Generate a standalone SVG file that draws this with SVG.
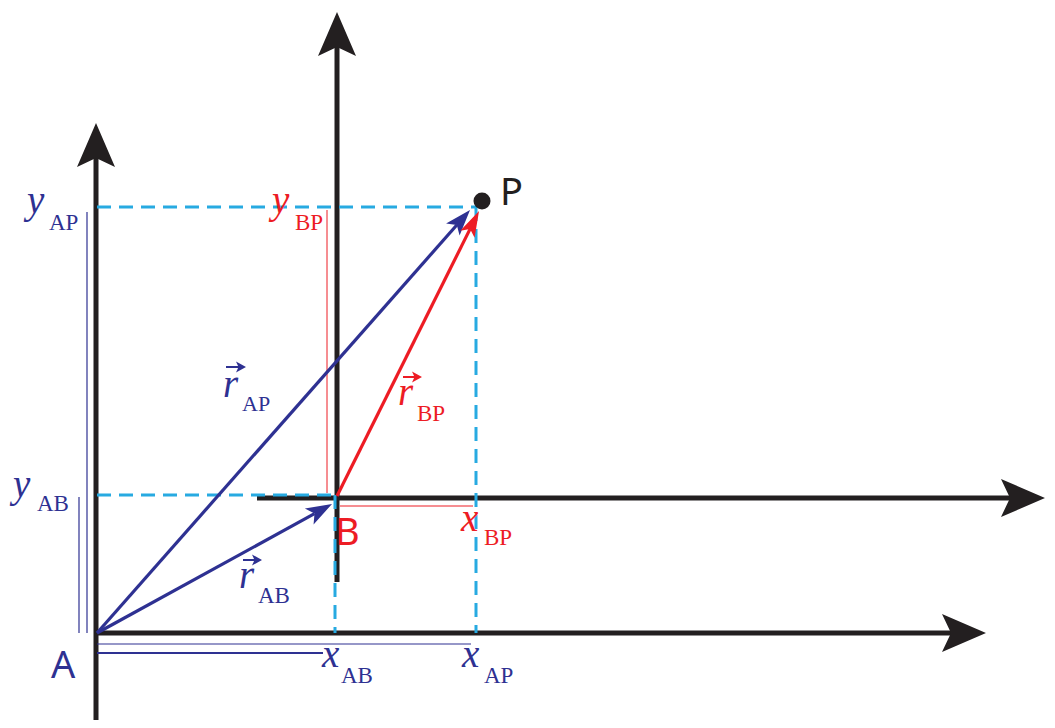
<svg xmlns="http://www.w3.org/2000/svg" width="1055" height="728" viewBox="0 0 1055 728">
<style>
.axis{stroke:#231f20;stroke-width:5;fill:none;marker-end:url(#bigArrow)}
.stub{stroke:#231f20;stroke-width:5;fill:none}
.dash{stroke:#27aae1;stroke-width:3;stroke-dasharray:14 8;fill:none}
.vb{stroke:#2e3192;stroke-width:3.2;fill:none;marker-end:url(#blueHead)}
.vr{stroke:#ed1c24;stroke-width:3.2;fill:none;marker-end:url(#redHead)}
.thinb{stroke:#2e3192;stroke-width:1.2;fill:none}
.thinr{stroke:#ed1c24;stroke-width:1;fill:none}
.it{font-family:"Liberation Serif","Times New Roman",serif;font-style:italic;font-size:39px}
.sub{font-family:"Liberation Serif","Times New Roman",serif;font-size:23px}
.sans{font-family:"Noto Sans","Open Sans","Liberation Sans",sans-serif;font-size:38px}
.blue{fill:#2e3192}
.red{fill:#ed1c24}
.blk{fill:#231f20}
</style>
<defs>
<marker id="bigArrow" markerUnits="userSpaceOnUse" markerWidth="60" markerHeight="50" refX="9" refY="0" orient="auto" overflow="visible">
<path d="M0,-19 L44,0 L0,19 L9,0 Z" fill="#231f20"/>
</marker>
<marker id="blueHead" markerUnits="userSpaceOnUse" markerWidth="40" markerHeight="30" refX="6" refY="0" orient="auto" overflow="visible">
<path d="M0,-9 L26,0 L0,9 L6,0 Z" fill="#2e3192"/>
</marker>
<marker id="redHead" markerUnits="userSpaceOnUse" markerWidth="40" markerHeight="30" refX="6" refY="0" orient="auto" overflow="visible">
<path d="M0,-8 L26,0 L0,8 L6,0 Z" fill="#ed1c24"/>
</marker>
</defs>
<g id="axes">
<line id="axisA-y" class="axis" x1="96" y1="720" x2="96" y2="158"/>
<line id="axisA-x" class="axis" x1="96" y1="633" x2="951" y2="633"/>
<line id="axisB-y" class="axis" x1="337" y1="582" x2="337" y2="47"/>
<line id="axisB-x" class="axis" x1="257" y1="498" x2="1010" y2="498"/>
</g>
<g id="guides">
<line class="thinb" x1="87" y1="212" x2="87" y2="633"/>
<line class="thinb" x1="79" y1="497" x2="79" y2="633"/>
<line class="thinb" x1="97" y1="644" x2="471" y2="644"/>
<line class="thinb" x1="97" y1="653" x2="323" y2="653" style="stroke-width:2"/>
<line class="thinr" x1="327" y1="210" x2="327" y2="493"/>
<line class="thinr" x1="340" y1="506" x2="473" y2="506"/>
</g>
<g id="projections">
<line class="dash" x1="97" y1="207" x2="477" y2="207"/>
<line class="dash" x1="476" y1="207" x2="476" y2="633"/>
<line class="dash" x1="97" y1="495" x2="336" y2="495"/>
<line class="dash" x1="335" y1="495" x2="335" y2="633"/>
</g>
<g id="connectors">
<line id="rAB" class="vb" x1="97" y1="633" x2="314.5" y2="513.6"/>
<line id="rAP" class="vb" x1="97" y1="633" x2="456.8" y2="225"/>
<line id="rBP" class="vr" x1="337" y1="496" x2="470.1" y2="228.9"/>
</g>
<g id="P">
<circle cx="482" cy="201" r="8.5" fill="#231f20"/>
<text class="sans blk" x="500" y="205">P</text>
</g>
<g id="A"><text class="sans blue" x="51" y="678">A</text></g>
<g id="B"><text class="sans red" x="335" y="545">B</text></g>
<g id="label-yAP" class="blue"><text class="it" x="27" y="213">y</text><text class="sub" x="49" y="230">AP</text></g>
<g id="label-yBP" class="red"><text class="it" x="272" y="213">y</text><text class="sub" x="295" y="230">BP</text></g>
<g id="label-yAB" class="blue"><text class="it" x="13" y="497">y</text><text class="sub" x="37" y="511">AB</text></g>
<g id="label-xBP" class="red"><text class="it" x="461" y="531">x</text><text class="sub" x="484" y="545">BP</text></g>
<g id="label-xAB" class="blue"><text class="it" x="322" y="667">x</text><text class="sub" x="341" y="683">AB</text></g>
<g id="label-xAP" class="blue"><text class="it" x="462" y="667">x</text><text class="sub" x="484" y="683">AP</text></g>
<g id="label-rAP" class="blue">
<text class="it" x="223" y="397">r</text><text class="sub" x="242" y="411" style="font-size:22px">AP</text>
<line x1="226" y1="367" x2="240" y2="367" stroke="#2e3192" stroke-width="2"/><path d="M246,367 L236,361.5 L238.5,367 L236,372.5 Z" fill="#2e3192"/>
</g>
<g id="label-rBP" class="red">
<text class="it" x="398" y="405">r</text><text class="sub" x="417" y="421">BP</text>
<line x1="403" y1="377" x2="416" y2="377" stroke="#ed1c24" stroke-width="2"/><path d="M422,377 L412,371.5 L414.5,377 L412,382.5 Z" fill="#ed1c24"/>
</g>
<g id="label-rAB" class="blue">
<text class="it" x="239" y="588">r</text><text class="sub" x="258" y="603">AB</text>
<line x1="243" y1="560" x2="256" y2="560" stroke="#2e3192" stroke-width="2"/><path d="M262,560 L252,554.5 L254.5,560 L252,565.5 Z" fill="#2e3192"/>
</g>
</svg>
